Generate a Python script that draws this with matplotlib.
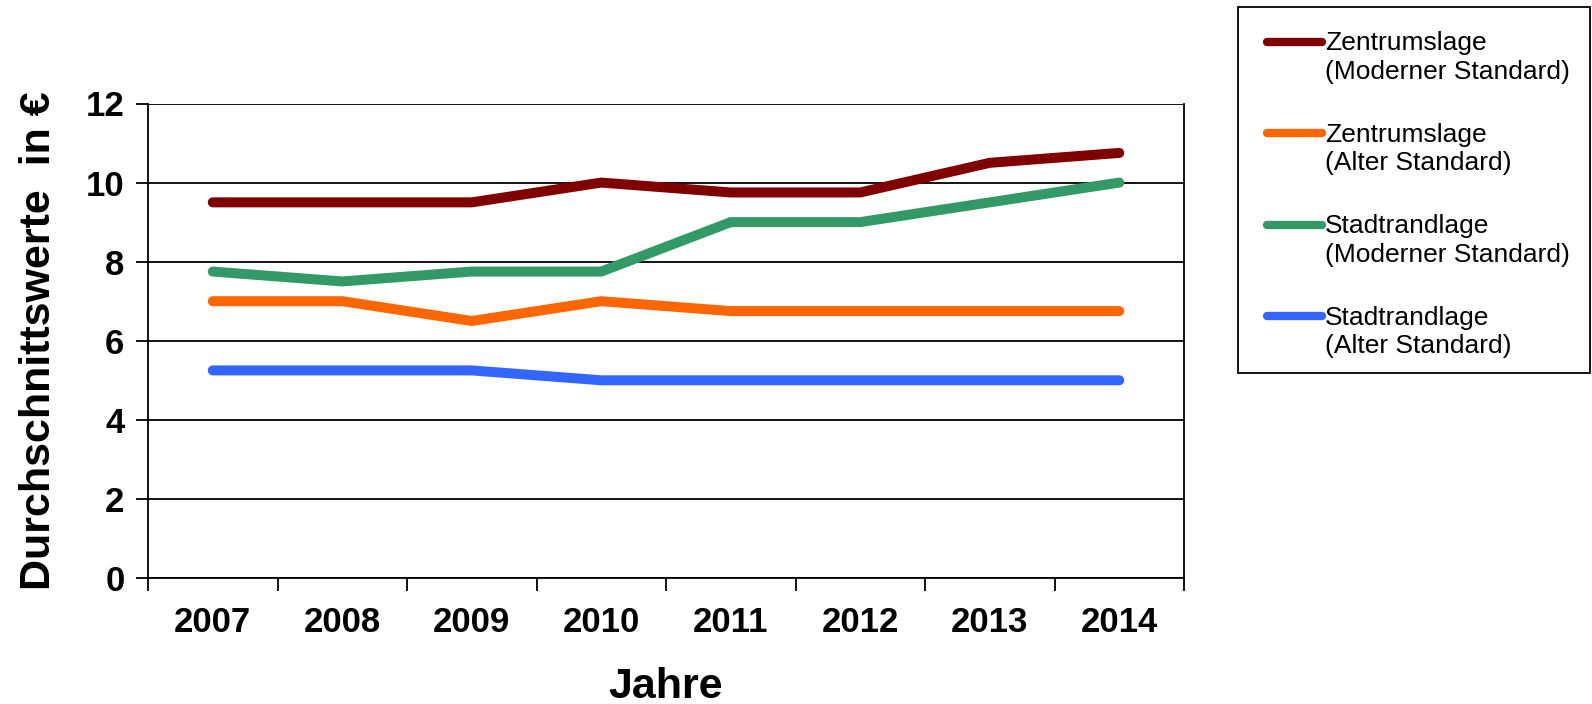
import numpy as np
import matplotlib.pyplot as plt
from matplotlib.patches import Rectangle
from matplotlib.ticker import FixedLocator, NullFormatter

plt.rcParams['font.family'] = ['Liberation Sans', 'DejaVu Sans']

jahre = ["2007", "2008", "2009", "2010", "2011", "2012", "2013", "2014"]
zentrum_modern = [9.5, 9.5, 9.5, 10.0, 9.75, 9.75, 10.5, 10.75]
zentrum_alt = [7.0, 7.0, 6.5, 7.0, 6.75, 6.75, 6.75, 6.75]
stadtrand_modern = [7.75, 7.5, 7.75, 7.75, 9.0, 9.0, 9.5, 10.0]
stadtrand_alt = [5.25, 5.25, 5.25, 5.0, 5.0, 5.0, 5.0, 5.0]

serien = [
    (zentrum_modern, "Zentrumslage\n(Moderner Standard)", "#800000"),
    (zentrum_alt, "Zentrumslage\n(Alter Standard)", "#FF6600"),
    (stadtrand_modern, "Stadtrandlage\n(Moderner Standard)", "#339966"),
    (stadtrand_alt, "Stadtrandlage\n(Alter Standard)", "#3366FF"),
]

W, H = 1592, 704
fig = plt.figure(figsize=(W / 100, H / 100), dpi=100)
ax = fig.add_axes([148 / W, 1 - 578 / H, (1184 - 148) / W, (578 - 103.5) / H])

x = np.arange(len(jahre))
for werte, name, farbe in serien:
    ax.plot(x, werte, color=farbe, lw=7.2, solid_capstyle='round',
            solid_joinstyle='miter', label=name)

ax.set_xlim(-0.5, len(jahre) - 0.5)
ax.set_ylim(0, 12)
ax.set_yticks(range(0, 13, 2))
ax.yaxis.grid(True, color='black', lw=1.3)
ax.set_axisbelow(True)

# Kategorie-Achse: Striche an den Grenzen, Beschriftung in der Mitte
ax.set_xticks(x)
ax.set_xticklabels(jahre)
ax.tick_params(axis='x', which='major', length=0, pad=20)
ax.xaxis.set_minor_locator(FixedLocator(np.arange(-0.5, len(jahre), 1.0)))
ax.xaxis.set_minor_formatter(NullFormatter())
ax.tick_params(axis='x', which='minor', length=9, width=1.3, direction='out')
ax.tick_params(axis='y', length=9, width=1.3, direction='out', pad=8)

for lab in ax.get_xticklabels() + ax.get_yticklabels():
    lab.set_fontsize(25)
    lab.set_fontweight('bold')

for s in ax.spines.values():
    s.set_linewidth(1.3)
ax.spines['top'].set_visible(False)

ax.set_xlabel("Jahre", fontsize=31, fontweight='bold', labelpad=20)
ax.set_ylabel("Durchschnittswerte  in €", fontsize=31, fontweight='bold', labelpad=19)

# Legende ohne eigenen Rahmen, Rahmen separat gezeichnet
fs = 19
leg = fig.legend(loc='upper left', bbox_to_anchor=(1267 / W, 1 - 31 / H),
                 fontsize=fs, frameon=False,
                 handlelength=2.1, handletextpad=0.1, labelspacing=1.47,
                 borderpad=0, borderaxespad=0)
for t in leg.get_texts():
    t.set_linespacing(1.25)
for line in leg.get_lines():
    line.set_linewidth(6)
    # Linie auf Höhe der ersten Textzeile
    line.set_ydata(np.asarray(line.get_ydata()) + 0.6 * fs)

fig.patches.append(Rectangle((1238 / W, 1 - 373 / H), (1590 - 1238) / W, (373 - 7) / H,
                             transform=fig.transFigure, fill=False,
                             edgecolor='black', lw=1.3))

fig.savefig("out.png", dpi=100)
